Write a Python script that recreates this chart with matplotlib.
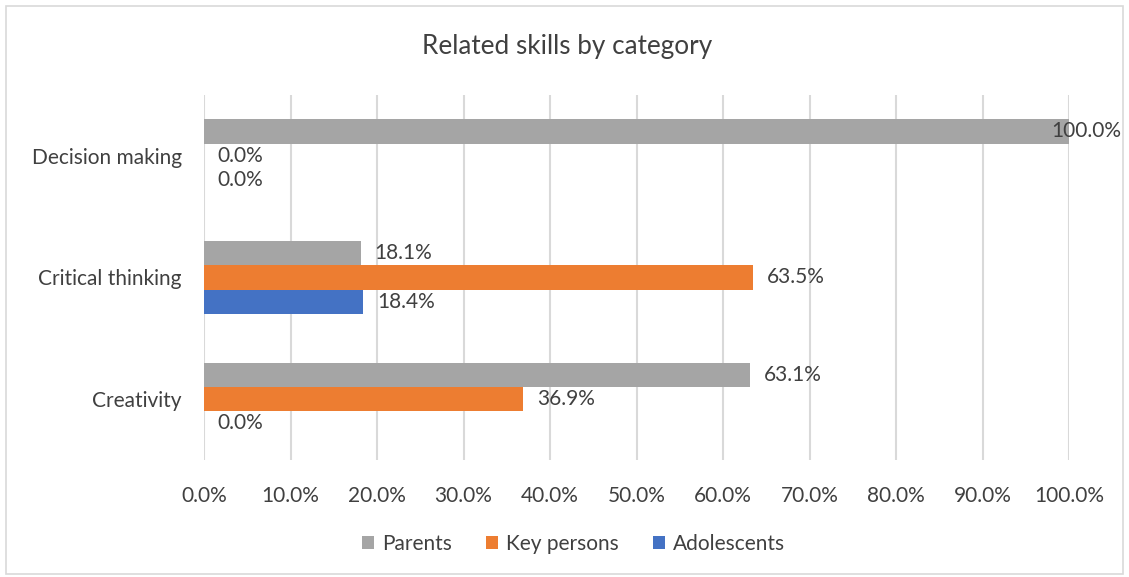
import numpy as np
import matplotlib.pyplot as plt
from matplotlib.patches import Rectangle

plt.rcParams['font.family'] = ['Lato', 'DejaVu Sans']

categories = ['Creativity', 'Critical thinking', 'Decision making']
parents = [63.1, 18.1, 100.0]
key_persons = [36.9, 63.5, 0.0]
adolescents = [0.0, 18.4, 0.0]
ticks = [0, 10, 20, 30, 40, 50, 60, 70, 80, 90, 100]

text_color = '#404040'
fs = 15
series = [
    ('Parents', parents, '#A5A5A5', 0.2),
    ('Key persons', key_persons, '#ED7D31', 0.0),
    ('Adolescents', adolescents, '#4472C4', -0.2),
]

fig = plt.figure(figsize=(11.29, 5.77), dpi=100)
ax = fig.add_axes([0.1807, 0.2028, 0.7662, 0.6326])

y = np.arange(len(categories))
h = 0.2
for name, vals, color, shift in series:
    ax.barh(y + shift, vals, height=h, color=color, label=name, zorder=3)
    for yi, v in zip(y, vals):
        # keep the label inside the chart area for long bars
        xt = min(v + 1.6, 98.0)
        ax.text(xt, yi + shift, f'{v:.1f}%', va='center', ha='left',
                fontsize=fs, color=text_color, zorder=4)

ax.set_xlim(0, 100)
ax.set_ylim(-0.5, 2.5)
ax.set_xticks(ticks)
ax.set_xticklabels([f'{t:.1f}%' for t in ticks], fontsize=fs, color=text_color)
ax.set_yticks(y)
ax.set_yticklabels(categories, fontsize=fs, color=text_color)
ax.tick_params(length=0, pad=16)
ax.tick_params(axis='x', pad=19)
ax.grid(axis='x', color='#D9D9D9', linewidth=1.5, zorder=0)
for s in ax.spines.values():
    s.set_visible(False)

fig.text(0.502, 0.92, 'Related skills by category', ha='center', va='center',
         fontsize=18.8, color=text_color)

leg = fig.legend(loc='center', bbox_to_anchor=(0.508, 0.057), ncol=3, frameon=False,
                 fontsize=fs, handlelength=0.6, handleheight=0.6, handletextpad=0.4,
                 columnspacing=1.6)
for t in leg.get_texts():
    t.set_color(text_color)

fig.patches.append(Rectangle((0.005, 0.005), 0.99, 0.985, transform=fig.transFigure,
                             fill=False, edgecolor='#D9D9D9', linewidth=1.2))

fig.savefig('out.png', dpi=100)
